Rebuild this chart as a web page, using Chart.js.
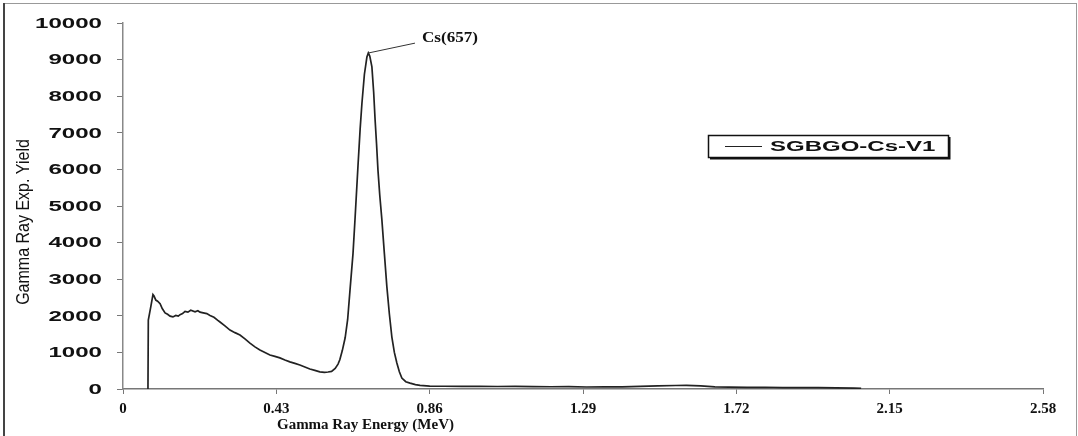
<!DOCTYPE html>
<html>
<head>
<meta charset="utf-8">
<script src="https://cdn.jsdelivr.net/npm/chart.js@4.4.1/dist/chart.umd.min.js"></script>
<style>
  body { margin: 0; background: #fff; }
  #wrap { width: 1078px; height: 436px; }
</style>
</head>
<body>
<div id="wrap"><canvas id="spectrumChart" width="1078" height="436"></canvas></div>
<script>
// Spectrum: energy (MeV) and yield
const energy = [0.070, 0.071, 0.078, 0.084, 0.087, 0.092, 0.097, 0.104, 0.110, 0.118,
    0.125, 0.132, 0.140, 0.148, 0.155, 0.160, 0.167, 0.174, 0.182, 0.190,
    0.202, 0.210, 0.216, 0.225, 0.235, 0.244, 0.255, 0.265, 0.272, 0.285,
    0.300, 0.314, 0.328, 0.342, 0.356, 0.370, 0.384, 0.398, 0.412, 0.426,
    0.440, 0.454, 0.468, 0.482, 0.496, 0.510, 0.524, 0.538, 0.552, 0.565,
    0.575, 0.585, 0.595, 0.603, 0.608, 0.615, 0.623, 0.630, 0.637, 0.645,
    0.651, 0.659, 0.665, 0.670, 0.677, 0.684, 0.688, 0.692, 0.698, 0.703,
    0.707, 0.711, 0.715, 0.720, 0.726, 0.733, 0.740, 0.747, 0.754, 0.761,
    0.768, 0.775, 0.782, 0.793, 0.805, 0.820, 0.833, 0.860, 0.900, 0.950,
    1.000, 1.050, 1.100, 1.150, 1.200, 1.250, 1.300, 1.350, 1.400, 1.450,
    1.500, 1.550, 1.580, 1.620, 1.660, 1.700, 1.750, 1.800, 1.850, 1.900,
    1.950, 2.000, 2.050, 2.070];
const yieldCounts = [0, 1880, 2250, 2580, 2540, 2430, 2400, 2330, 2200, 2080,
    2040, 1990, 1970, 2010, 1990, 2030, 2060, 2120, 2100, 2150,
    2110, 2140, 2100, 2080, 2060, 2010, 1960, 1880, 1830, 1730,
    1610, 1540, 1475, 1370, 1255, 1150, 1065, 1000, 930, 890,
    850, 790, 740, 700, 655, 600, 545, 510, 470, 455,
    465, 480, 560, 680, 800, 1050, 1400, 1900, 2750, 3700,
    4700, 6100, 7100, 7800, 8600, 9070, 9180, 9100, 8800, 8100,
    7350, 6700, 5980, 5300, 4620, 3700, 2790, 2050, 1420, 1000,
    710, 470, 300, 200, 160, 120, 100, 80, 75, 70,
    72, 68, 70, 65, 62, 65, 55, 60, 58, 70,
    85, 95, 100, 85, 60, 50, 45, 48, 40, 38,
    35, 30, 25, 15];

const xTicks = [0, 0.43, 0.86, 1.29, 1.72, 2.15, 2.58];
const yTicks = [0, 1000, 2000, 3000, 4000, 5000, 6000, 7000, 8000, 9000, 10000];
const seriesName = 'SGBGO-Cs-V1';
const peakLabel = 'Cs(657)';
const peakAt = { x: 0.688, y: 9180 };
const peakText = { x: 0.83, y: 9450 };

const points = energy.map((e, i) => ({ x: e, y: yieldCounts[i] }));

// draw text stretched sideways, the picture is squashed like that
function wideText(ctx, txt, x, y, sx, align) {
    ctx.save();
    ctx.translate(x, y);
    ctx.scale(sx, 1);
    ctx.textAlign = align;
    ctx.fillText(txt, 0, 0);
    ctx.restore();
}

const extras = {
    id: 'extras',
    afterDraw(chart) {
        const ctx = chart.ctx;
        const xs = chart.scales.x, ys = chart.scales.y;
        const area = chart.chartArea;
        ctx.save();

        // frame round the figure
        ctx.strokeStyle = '#999';
        ctx.lineWidth = 1;
        ctx.strokeRect(3.5, 3.5, 1073, 445);
        ctx.strokeStyle = '#444';
        ctx.lineWidth = 2;
        ctx.beginPath();
        ctx.moveTo(4, 3);
        ctx.lineTo(4, 436);
        ctx.stroke();

        // y tick labels
        ctx.fillStyle = '#111';
        ctx.font = 'bold 14px Arial, "Liberation Sans", sans-serif';
        ctx.textBaseline = 'middle';
        yTicks.forEach(v => {
            wideText(ctx, String(v), 102, ys.getPixelForValue(v) + 1, 1.72, 'right');
        });

        // y title
        ctx.save();
        ctx.translate(24, (area.top + area.bottom) / 2 + 16);
        ctx.rotate(-Math.PI / 2);
        ctx.scale(1, 1.2);
        ctx.font = '16px Arial, "Liberation Sans", sans-serif';
        ctx.textAlign = 'center';
        ctx.textBaseline = 'middle';
        ctx.fillStyle = '#111';
        ctx.fillText('Gamma Ray Exp. Yield', 0, 0);
        ctx.restore();

        // x title
        ctx.font = 'bold 15px "Times New Roman", "Liberation Serif", serif';
        ctx.textAlign = 'center';
        ctx.textBaseline = 'middle';
        ctx.fillStyle = '#111';
        ctx.fillText('Gamma Ray Energy (MeV)', xs.getPixelForValue(0.68), 425);

        // peak label with leader line
        const px = xs.getPixelForValue(peakAt.x), py = ys.getPixelForValue(peakAt.y);
        const tx = xs.getPixelForValue(peakText.x), ty = ys.getPixelForValue(peakText.y);
        ctx.strokeStyle = '#333';
        ctx.lineWidth = 1;
        ctx.beginPath();
        ctx.moveTo(px, py);
        ctx.lineTo(tx - 4, ty);
        ctx.stroke();
        ctx.font = 'bold 14px "Times New Roman", "Liberation Serif", serif';
        ctx.textBaseline = 'middle';
        wideText(ctx, peakLabel, tx + 3, ty - 5, 1.22, 'left');

        // legend box
        const lx = 708, ly = 135, lw = 240, lh = 22;
        ctx.fillStyle = '#fff';
        ctx.fillRect(lx, ly, lw, lh);
        ctx.strokeStyle = '#111';
        ctx.lineWidth = 1.5;
        ctx.strokeRect(lx + 0.5, ly + 0.5, lw, lh);
        ctx.lineWidth = 2;
        ctx.beginPath();
        ctx.moveTo(lx + lw + 1.5, ly + 2);
        ctx.lineTo(lx + lw + 1.5, ly + lh + 1.5);
        ctx.lineTo(lx + 2, ly + lh + 1.5);
        ctx.stroke();
        ctx.strokeStyle = '#222';
        ctx.lineWidth = 1.2;
        ctx.beginPath();
        ctx.moveTo(lx + 17, ly + 11.5);
        ctx.lineTo(lx + 54, ly + 11.5);
        ctx.stroke();
        ctx.fillStyle = '#111';
        ctx.font = 'bold 15px Arial, "Liberation Sans", sans-serif';
        ctx.textBaseline = 'middle';
        wideText(ctx, seriesName, lx + 62, ly + 12, 1.6, 'left');

        ctx.restore();
    }
};

new Chart(document.getElementById('spectrumChart'), {
    type: 'line',
    data: {
        datasets: [{
            label: seriesName,
            data: points,
            borderColor: '#222',
            borderWidth: 1.7,
            pointRadius: 0,
            tension: 0,
            fill: false
        }]
    },
    options: {
        responsive: false,
        animation: false,
        layout: { padding: { left: 0, right: 35, top: 23, bottom: 0 } },
        plugins: {
            legend: { display: false },
            tooltip: { enabled: false }
        },
        scales: {
            x: {
                type: 'linear',
                min: 0,
                max: 2.58,
                afterBuildTicks: scale => { scale.ticks = xTicks.map(v => ({ value: v })); },
                afterFit: scale => { scale.height = 47; },
                ticks: {
                    autoSkip: false,
                    maxRotation: 0,
                    padding: 6,
                    color: '#111',
                    font: { family: '"Times New Roman", "Liberation Serif", serif', size: 15, weight: 'bold' },
                    callback: v => (v === 0 ? '0' : v.toFixed(2))
                },
                grid: { drawOnChartArea: false, tickLength: 5, color: '#777' },
                border: { display: true, color: '#777', width: 1.5 }
            },
            y: {
                min: 0,
                max: 10000,
                afterBuildTicks: scale => { scale.ticks = yTicks.map(v => ({ value: v })); },
                afterFit: scale => { scale.width = 123; },
                ticks: { display: false },
                grid: { drawOnChartArea: false, tickLength: 6, color: '#777' },
                border: { display: true, color: '#888', width: 1.5 }
            }
        }
    },
    plugins: [extras]
});
</script>
</body>
</html>
